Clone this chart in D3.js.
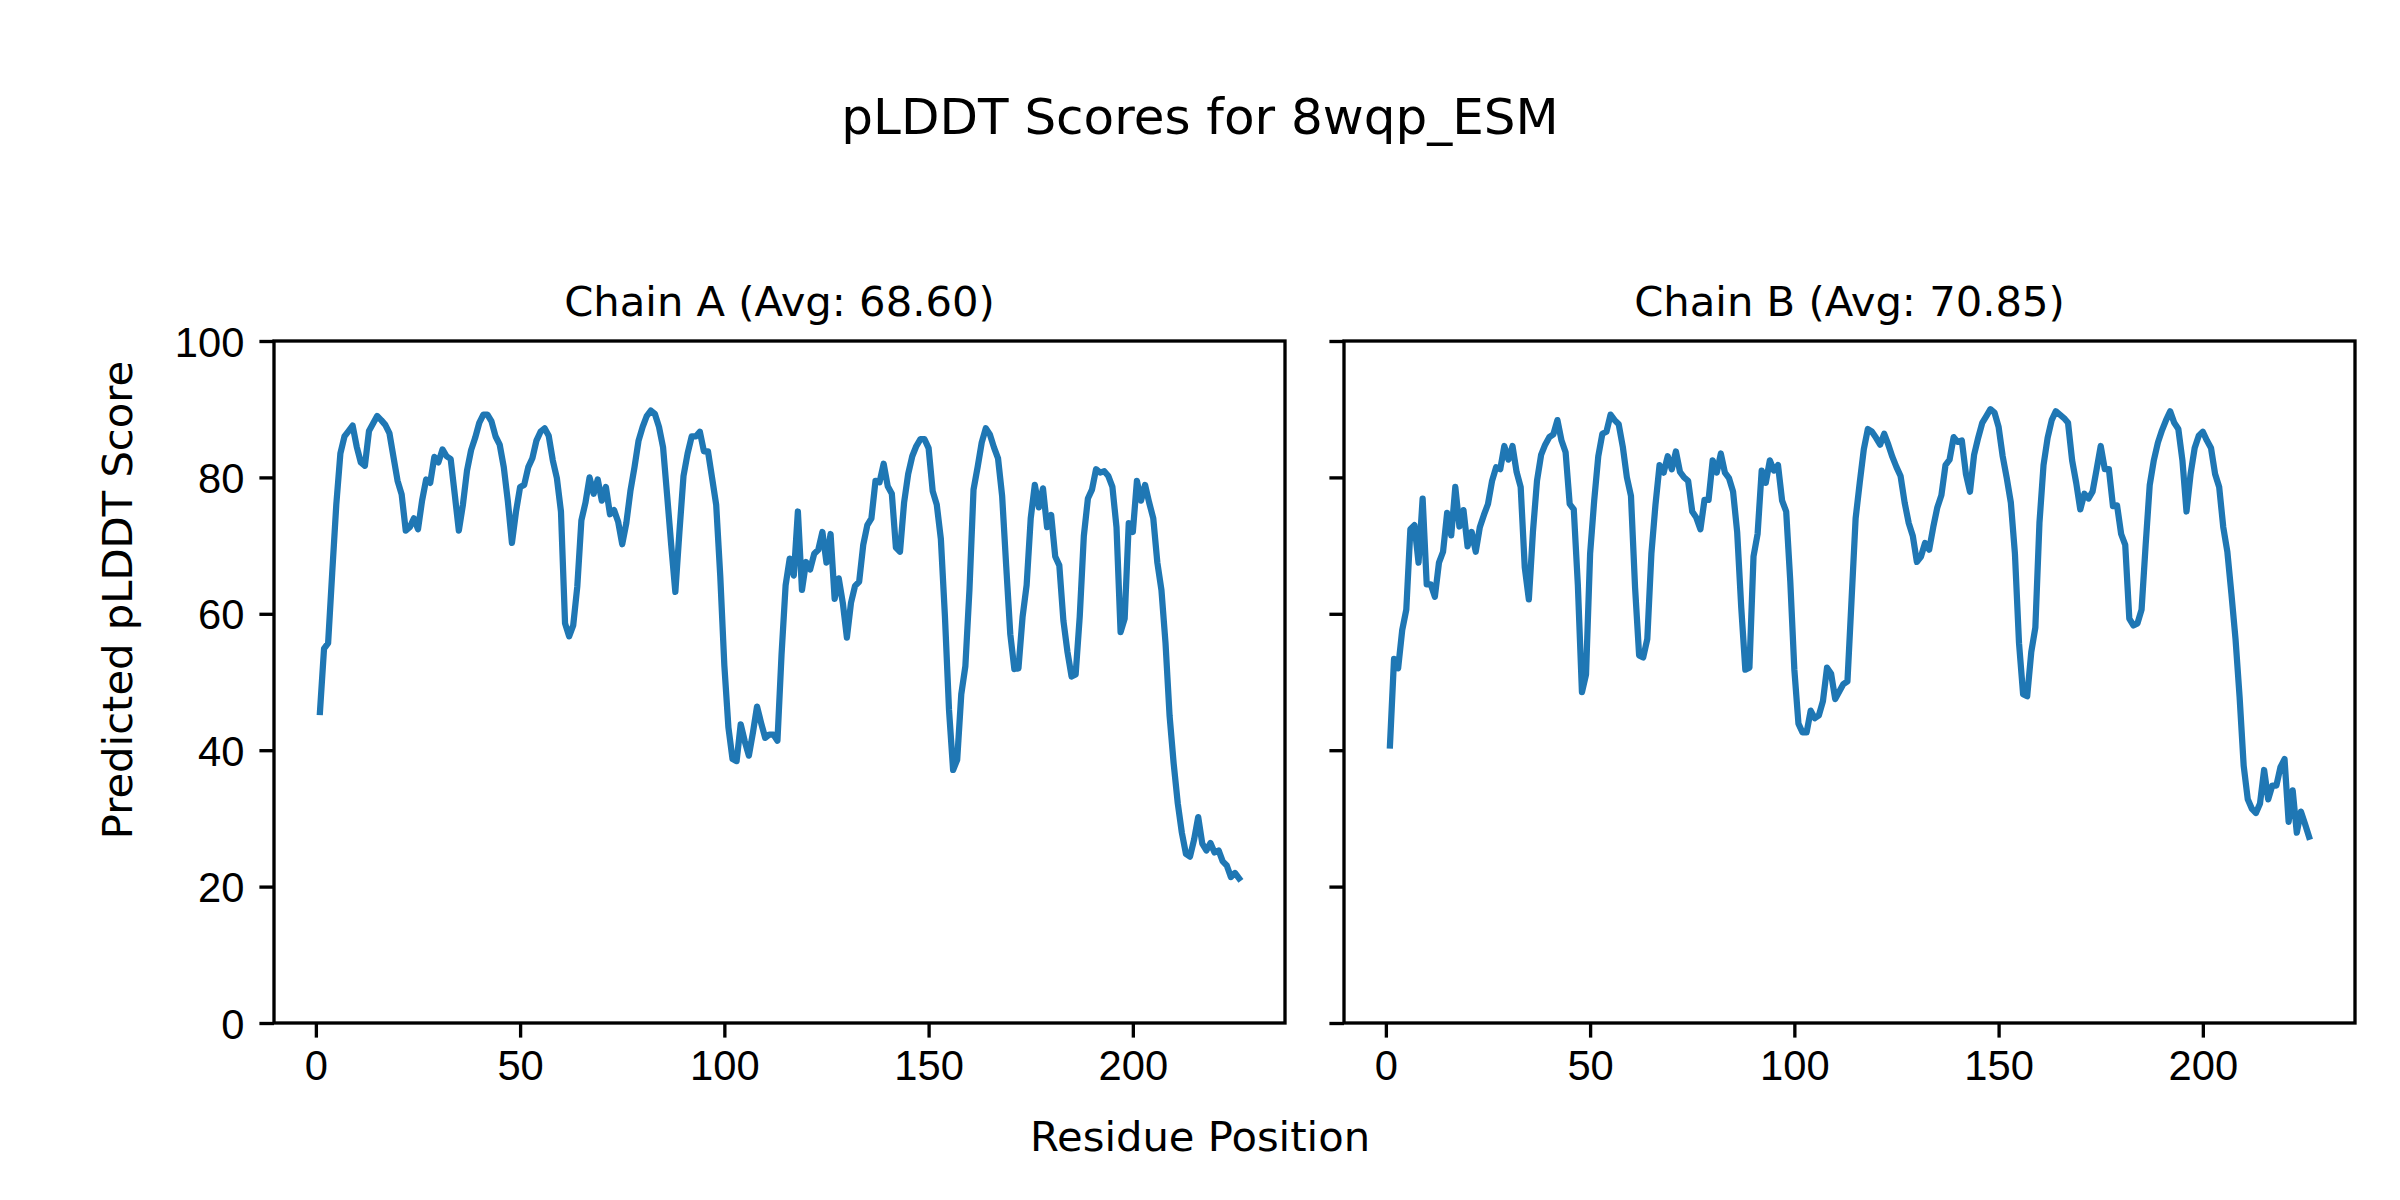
<!DOCTYPE html>
<html>
<head>
<meta charset="utf-8">
<script src="https://cdn.jsdelivr.net/npm/d3@7"></script>
<style>
  body { margin: 0; background: #fff; }
  svg { display: block; font-family: "DejaVu Sans", sans-serif; }
  .tick text { font-size: 41.7px; fill: #000; }
  .tick line { stroke: #000; stroke-width: 3.33; }
</style>
</head>
<body>
<svg width="2400" height="1200"></svg>
<script>
var chainA = [45.6, 54.9, 55.7, 66, 76, 83.5, 86, 86.8, 87.6, 84.5,
  82.2, 81.7, 86.8, 87.9, 89, 88.4, 87.7, 86.5, 83, 79.5,
  77.5, 72.2, 72.7, 74, 72.4, 76.6, 79.7, 79.2, 83, 82.2,
  84.1, 83.1, 82.7, 77.5, 72.2, 76, 81, 84, 85.8, 88,
  89.2, 89.2, 88.2, 86, 84.8, 81.5, 76.5, 70.4, 75, 78.6,
  78.9, 81.5, 82.8, 85.4, 86.7, 87.2, 86.1, 82.5, 79.9, 75,
  58.6, 56.7, 58.3, 64, 73.7, 76.3, 80, 77.6, 79.7, 76.6,
  78.6, 74.6, 75.2, 73.5, 70.2, 73.3, 78, 81.5, 85.4, 87.4,
  89, 89.8, 89.3, 87.4, 84.4, 77.3, 70, 63.2, 72, 80.2,
  83.5, 86, 86, 86.7, 83.8, 83.8, 79.9, 76, 65.5, 52.4,
  43.3, 38.7, 38.4, 43.8, 41.3, 39.2, 42.6, 46.4, 44, 41.8,
  42.3, 42.3, 41.4, 54, 64.2, 68.1, 65.6, 75, 63.5, 67.6,
  66.5, 68.8, 69.4, 72, 67.5, 71.7, 62.2, 65.2, 61.6, 56.5,
  61.6, 64.1, 64.7, 70.1, 73, 74, 79.5, 79.3, 82, 78.7,
  77.6, 69.7, 69.1, 76.3, 80.5, 83.1, 84.6, 85.6, 85.6, 84.3,
  78, 76, 71, 59.6, 45.9, 37.1, 38.6, 48.2, 52.3, 63.5,
  78.2, 81.5, 85.1, 87.2, 86.3, 84.4, 82.8, 77.3, 67, 57,
  51.9, 52, 59.5, 64.2, 74, 78.9, 75.6, 78.4, 72.7, 74.5,
  68.4, 67.1, 59, 54.4, 50.8, 51.1, 59.6, 71.4, 76.9, 78.2,
  81.2, 80.7, 80.9, 80.2, 78.6, 72.7, 57.3, 59.3, 73.3, 72,
  79.5, 76.6, 78.9, 76.3, 74, 67.5, 63.5, 55.7, 45, 38,
  32.2, 27.9, 24.8, 24.4, 26.9, 30.2, 26.3, 25.3, 26.4, 25,
  25.3, 23.7, 23.1, 21.4, 22, 21.2]

var chainB = [40.7, 53.4, 52, 57.6, 60.6, 72.4, 73, 67.5, 76.9, 64.3,
  64.3, 62.5, 67.5, 69.1, 74.8, 71.5, 78.6, 72.8, 75.2, 69.9,
  72, 69.1, 72.7, 74.5, 76.1, 79.5, 81.5, 81.2, 84.6, 82.6,
  84.6, 80.8, 78.6, 66.8, 62.1, 72, 79.5, 83.3, 84.8, 85.9,
  86.3, 88.4, 85.4, 83.7, 76.1, 75.3, 64.2, 48.5, 51.1, 68.8,
  76.6, 83.1, 86.4, 86.7, 89.2, 88.4, 87.8, 84.5, 80, 77.3,
  63.9, 53.9, 53.6, 56.3, 68.8, 76, 81.8, 80.7, 83.1, 81.2,
  83.8, 80.8, 80, 79.5, 75, 74.1, 72.4, 76.7, 76.7, 82.5,
  80.7, 83.5, 80.7, 79.9, 77.9, 72, 60.9, 51.8, 52.1, 68.4,
  71.7, 81, 79.2, 82.5, 81, 81.8, 76.6, 75, 64.8, 51.8,
  43.9, 42.6, 42.6, 45.8, 44.7, 45.1, 47.2, 52.1, 51.2, 47.5,
  48.6, 49.7, 50.1, 62, 74, 79.2, 84.1, 87.1, 86.7, 85.8,
  84.8, 86.4, 84.8, 83, 81.5, 80.2, 76.3, 73.3, 71.4, 67.6,
  68.4, 70.4, 69.4, 72.7, 75.6, 77.4, 81.8, 82.6, 85.9, 85.2,
  85.4, 80.5, 77.9, 83.3, 85.8, 88, 89, 90, 89.5, 87.4,
  83.1, 79.9, 76.3, 68.8, 55.7, 48.2, 47.9, 54.4, 58, 73.3,
  81.8, 85.8, 88.4, 89.7, 89.2, 88.7, 88, 82.5, 79.2, 75.3,
  77.6, 76.9, 77.9, 81.2, 84.6, 81.2, 81.2, 75.8, 75.9, 71.7,
  70.1, 59.3, 58.3, 58.6, 60.6, 70.1, 78.9, 82.5, 85.1, 86.9,
  88.4, 89.7, 88, 87.1, 82.5, 75, 80.5, 84.3, 86.1, 86.7,
  85.4, 84.3, 80.5, 78.6, 72.7, 69.1, 62.9, 56.3, 47.8, 37.7,
  32.8, 31.4, 30.8, 32.2, 37.1, 32.8, 34.8, 34.8, 37.5, 38.7,
  29.5, 34.1, 27.9, 31, 29.2, 27.3]

var chainTitles = ["Chain A (Avg: 68.60)", "Chain B (Avg: 70.85)"]
var xTicks = [0, 50, 100, 150, 200]
var yTicks = [0, 20, 40, 60, 80, 100]

var figTitle = "pLDDT Scores for 8wqp_ESM"
var xLabel = "Residue Position"
var yLabel = "Predicted pLDDT Score"

var svg = d3.select("svg")

// plot boxes in pixels
var top_ = 341, bottom = 1023, panelW = 1011
var lefts = [274, 1344]

// residue numbers start at 1
var residues = d3.range(1, chainA.length + 1)
var n = residues.length
var pad = (n - 1) * 0.05

var yScale = d3.scaleLinear().domain([0, 100]).range([bottom, top_])

svg.append("text")
    .attr("x", 1200).attr("y", 134)
    .attr("text-anchor", "middle")
    .style("font-size", "50px")
    .text(figTitle)

svg.append("text")
    .attr("x", 1200).attr("y", 1151)
    .attr("text-anchor", "middle")
    .style("font-size", "41.7px")
    .text(xLabel)

svg.append("text")
    .attr("transform", "translate(132,600) rotate(-90)")
    .attr("text-anchor", "middle")
    .style("font-size", "41.7px")
    .text(yLabel)

var series = [chainA, chainB]

series.forEach(function (values, i) {
    var left = lefts[i]
    var xScale = d3.scaleLinear()
        .domain([1 - pad, n + pad])
        .range([left, left + panelW])

    var g = svg.append("g")

    // x axis
    g.append("g")
        .attr("transform", "translate(0," + bottom + ")")
        .call(d3.axisBottom(xScale).tickValues(xTicks).tickSize(14.6).tickPadding(12).tickSizeOuter(0))
        .call(a => a.select(".domain").remove())
        .selectAll(".tick text").attr("dy", "0.72em")

    // y axis, labels only on the first panel
    var yAxis = d3.axisLeft(yScale).tickValues(yTicks).tickSize(14.6).tickPadding(15).tickSizeOuter(0)
    if (i > 0) yAxis.tickFormat("")
    g.append("g")
        .attr("transform", "translate(" + left + ",0)")
        .call(yAxis)
        .call(a => a.select(".domain").remove())
        .selectAll(".tick text").attr("dy", "0.36em")

    var line = d3.line()
        .x((d, j) => xScale(residues[j]))
        .y(d => yScale(d))

    g.append("path")
        .datum(values)
        .attr("fill", "none")
        .attr("stroke", "#1f77b4")
        .attr("stroke-width", 6.25)
        .attr("stroke-linejoin", "round")
        .attr("stroke-linecap", "square")
        .attr("d", line)

    // frame
    g.append("rect")
        .attr("x", left).attr("y", top_)
        .attr("width", panelW).attr("height", bottom - top_)
        .attr("fill", "none")
        .attr("stroke", "#000")
        .attr("stroke-width", 3.33)

    g.append("text")
        .attr("x", left + panelW / 2).attr("y", 316)
        .attr("text-anchor", "middle")
        .style("font-size", "41.7px")
        .text(chainTitles[i])
})
</script>
</body>
</html>
